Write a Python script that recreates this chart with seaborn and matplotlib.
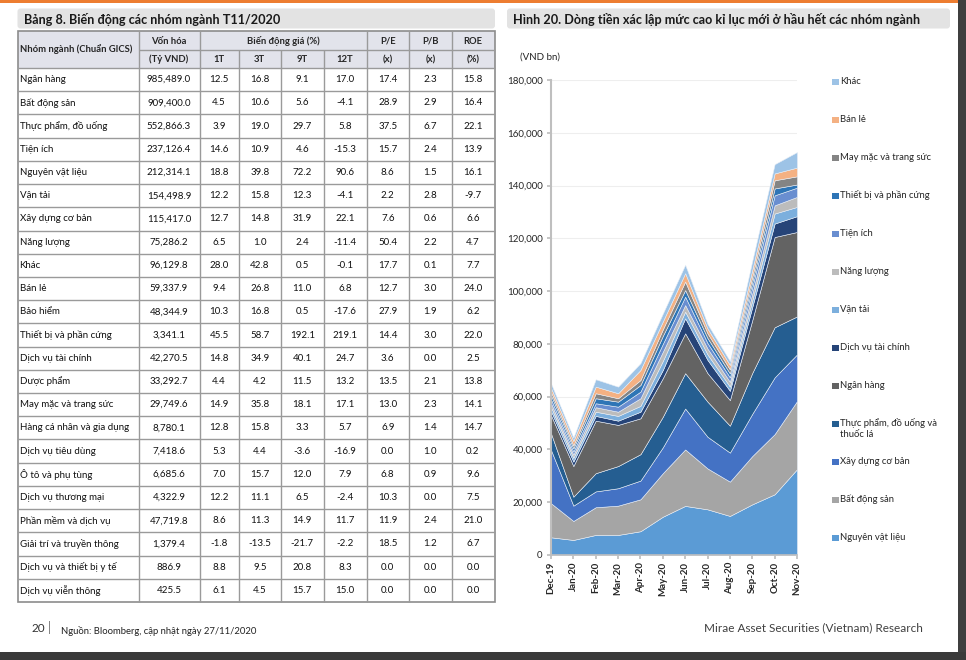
import matplotlib
matplotlib.use("Agg")
import matplotlib.pyplot as plt
from matplotlib.patches import Rectangle, FancyBboxPatch
from matplotlib.ticker import FuncFormatter, MultipleLocator
import numpy as np
import seaborn as sns

# Bảng 8 - biến động các nhóm ngành T11/2020
nganh = ["Ngân hàng", "Bất động sản", "Thực phẩm, đồ uống", "Tiện ích", "Nguyên vật liệu",
         "Vận tải", "Xây dựng cơ bản", "Năng lượng", "Khác", "Bán lẻ", "Bảo hiểm",
         "Thiết bị và phần cứng", "Dịch vụ tài chính", "Dược phẩm", "May mặc và trang sức",
         "Hàng cá nhân và gia dụng", "Dịch vụ tiêu dùng", "Ô tô và phụ tùng",
         "Dịch vụ thương mại", "Phần mềm và dịch vụ", "Giải trí và truyền thông",
         "Dịch vụ và thiết bị y tế", "Dịch vụ viễn thông"]
von_hoa = [985489.0, 909400.0, 552866.3, 237126.4, 212314.1, 154498.9, 115417.0, 75286.2,
           96129.8, 59337.9, 48344.9, 3341.1, 42270.5, 33292.7, 29749.6, 8780.1, 7418.6,
           6685.6, 4322.9, 47719.8, 1379.4, 886.9, 425.5]
bd_1t = [12.5, 4.5, 3.9, 14.6, 18.8, 12.2, 12.7, 6.5, 28.0, 9.4, 10.3, 45.5, 14.8, 4.4,
         14.9, 12.8, 5.3, 7.0, 12.2, 8.6, -1.8, 8.8, 6.1]
bd_3t = [16.8, 10.6, 19.0, 10.9, 39.8, 15.8, 14.8, 1.0, 42.8, 26.8, 16.8, 58.7, 34.9, 4.2,
         35.8, 15.8, 4.4, 15.7, 11.1, 11.3, -13.5, 9.5, 4.5]
bd_9t = [9.1, 5.6, 29.7, 4.6, 72.2, 12.3, 31.9, 2.4, 0.5, 11.0, 0.5, 192.1, 40.1, 11.5,
         18.1, 3.3, -3.6, 12.0, 6.5, 14.9, -21.7, 20.8, 15.7]
bd_12t = [17.0, -4.1, 5.8, -15.3, 90.6, -4.1, 22.1, -11.4, -0.1, 6.8, -17.6, 219.1, 24.7,
          13.2, 17.1, 5.7, -16.9, 7.9, -2.4, 11.7, -2.2, 8.3, 15.0]
pe = [17.4, 28.9, 37.5, 15.7, 8.6, 2.2, 7.6, 50.4, 17.7, 12.7, 27.9, 14.4, 3.6, 13.5, 13.0,
      6.9, 0.0, 6.8, 10.3, 11.9, 18.5, 0.0, 0.0]
pb = [2.3, 2.9, 6.7, 2.4, 1.5, 2.8, 0.6, 2.2, 0.1, 3.0, 1.9, 3.0, 0.0, 2.1, 2.3, 1.4, 1.0,
      0.9, 0.0, 2.4, 1.2, 0.0, 0.0]
roe = [15.8, 16.4, 22.1, 13.9, 16.1, -9.7, 6.6, 4.7, 7.7, 24.0, 6.2, 22.0, 2.5, 13.8, 14.1,
       14.7, 0.2, 9.6, 7.5, 21.0, 6.7, 0.0, 0.0]

# Hình 20 - dòng tiền theo nhóm ngành (VND bn), từ dưới lên
thang = ["Dec-19", "Jan-20", "Feb-20", "Mar-20", "Apr-20", "May-20", "Jun-20",
         "Jul-20", "Aug-20", "Sep-20", "Oct-20", "Nov-20"]
nguyen_vat_lieu = [6700, 5700, 7600, 7600, 9000, 14500, 18600, 17300, 14800, 19200, 23000, 32500]
bat_dong_san = [12900, 7200, 10500, 11100, 12100, 16500, 21400, 15500, 13000, 18300, 22800, 25800]
xay_dung = [20200, 5800, 6000, 6600, 7100, 9800, 15500, 12000, 11000, 16000, 21500, 17700]
thuc_pham = [6300, 3400, 6900, 8400, 10000, 11600, 13400, 13300, 10200, 15500, 19000, 14400]
ngan_hang = [6900, 11600, 19900, 15600, 13600, 14600, 15100, 10800, 9700, 20000, 34200, 32000]
dv_tai_chinh = [1500, 1700, 1800, 1600, 2500, 3100, 5700, 5000, 3500, 5000, 5100, 6000]
van_tai = [1500, 1400, 1600, 1800, 2200, 3400, 2500, 2100, 1600, 2500, 3800, 3500]
nang_luong = [1500, 1200, 1700, 1600, 2900, 3500, 2500, 2200, 1800, 2500, 3100, 3800]
tien_ich = [1500, 1200, 1500, 1900, 2500, 3000, 3200, 2100, 1700, 2500, 3800, 3500]
thiet_bi = [1500, 1200, 1900, 1900, 2500, 3000, 2500, 1900, 1500, 2000, 2600, 1200]
may_mac = [1300, 1100, 1900, 1300, 1900, 2500, 3200, 1800, 1500, 2000, 3100, 3100]
ban_le = [1500, 1700, 2500, 1900, 3800, 3000, 3200, 1800, 1700, 2500, 2600, 3300]
khac = [1700, 1300, 2800, 2500, 2600, 3000, 3200, 1700, 1500, 3500, 3500, 5900]

series = [nguyen_vat_lieu, bat_dong_san, xay_dung, thuc_pham, ngan_hang, dv_tai_chinh,
          van_tai, nang_luong, tien_ich, thiet_bi, may_mac, ban_le, khac]
ten_series = ["Nguyên vật liệu", "Bất động sản", "Xây dựng cơ bản",
              "Thực phẩm, đồ uống và\nthuốc lá", "Ngân hàng", "Dịch vụ tài chính", "Vận tải",
              "Năng lượng", "Tiện ích", "Thiết bị và phần cứng", "May mặc và trang sức",
              "Bán lẻ", "Khác"]
mau = ["#5b9bd5", "#a5a5a5", "#4472c4", "#255e91", "#636363", "#264478", "#7cafdd",
       "#bcbcbc", "#698ed0", "#2e75b6", "#848484", "#f4b183", "#9dc3e6"]

sns.set_theme(style="white")
plt.rcParams["font.family"] = ["Lato", "DejaVu Sans"]

fig = plt.figure(figsize=(9.66, 6.6), dpi=100)

# Trang nền (tọa độ pixel)
page = fig.add_axes([0, 0, 1, 1])
page.set_xlim(0, 966)
page.set_ylim(660, 0)
page.axis("off")

page.add_patch(Rectangle((0, 0), 958, 2.5, color="#ed7d31", lw=0))
page.add_patch(Rectangle((958, 0), 8, 660, color="#3f3f3f", lw=0))
page.add_patch(Rectangle((0, 652), 966, 8, color="#3a3a3a", lw=0))

# Tiêu đề
for x0, x1, txt in [(17.5, 495, "Bảng 8. Biến động các nhóm ngành T11/2020"),
                    (507, 950, "Hình 20. Dòng tiền xác lập mức cao kỉ lục mới ở hầu hết các nhóm ngành")]:
    page.add_patch(FancyBboxPatch((x0, 8.5), x1 - x0, 20, boxstyle="round,pad=0,rounding_size=3",
                                  fc="#e3e3e3", ec="none"))
    page.text(x0 + 6, 19, txt, fontsize=9.1, fontweight="bold", va="center", ha="left", color="#1a1a1a")

# Bảng
cot = [17.5, 138.5, 199.5, 238.5, 281, 323.5, 366.5, 409, 451.5, 494.5]
y_top, y_mid, y_hdr = 31, 50, 68
row_h = (602 - y_hdr) / len(nganh)
grid_c = "#9a9a9a"

page.add_patch(Rectangle((cot[0], y_top), cot[-1] - cot[0], y_hdr - y_top, fc="#e2e3eb", ec="none"))
hfs = 6.8
page.text(cot[0] + 2, (y_top + y_hdr) / 2, "Nhóm ngành (Chuẩn GICS)", fontsize=hfs,
          fontweight="bold", va="center", ha="left")
yh1 = (y_top + y_mid) / 2 + 0.5
yh2 = (y_mid + y_hdr) / 2 + 0.5
page.text((cot[1] + cot[2]) / 2, yh1, "Vốn hóa", fontsize=hfs, fontweight="bold", ha="center", va="center")
page.text((cot[1] + cot[2]) / 2, yh2, "(Tỷ VND)", fontsize=hfs, fontweight="bold", ha="center", va="center")
page.text((cot[2] + cot[6]) / 2, yh1, "Biến động giá (%)", fontsize=hfs, fontweight="bold", ha="center", va="center")
for i, lab in enumerate(["1T", "3T", "9T", "12T"]):
    page.text((cot[2 + i] + cot[3 + i]) / 2, yh2, lab, fontsize=hfs, fontweight="bold", ha="center", va="center")
for i, (a, b) in enumerate([("P/E", "(x)"), ("P/B", "(x)"), ("ROE", "(%)")]):
    xc = (cot[6 + i] + cot[7 + i]) / 2
    page.text(xc, yh1, a, fontsize=hfs, fontweight="bold", ha="center", va="center")
    page.text(xc, yh2, b, fontsize=hfs, fontweight="bold", ha="center", va="center")

# đường kẻ header
page.hlines(y_mid, cot[1], cot[-1], color=grid_c, lw=1.0)
page.vlines([cot[1], cot[2], cot[6], cot[7], cot[8]], y_top, y_hdr, color=grid_c, lw=1.0)
page.vlines([cot[3], cot[4], cot[5]], y_mid, y_hdr, color=grid_c, lw=1.0)

cols = [von_hoa, bd_1t, bd_3t, bd_9t, bd_12t, pe, pb, roe]
bfs = 7
for r, name in enumerate(nganh):
    yc = y_hdr + (r + 0.5) * row_h
    page.text(cot[0] + 2, yc, name, fontsize=bfs, va="center", ha="left", color="#111111")
    for c, vals in enumerate(cols):
        s = f"{vals[r]:,.1f}" if c == 0 else f"{vals[r]:.1f}"
        page.text((cot[c + 1] + cot[c + 2]) / 2, yc, s, fontsize=bfs, va="center", ha="center",
                  color="#111111")
    page.hlines(y_hdr + r * row_h, cot[0], cot[-1], color=grid_c, lw=1.0)
page.vlines(cot[1:-1], y_hdr, 602, color=grid_c, lw=1.0)
page.add_patch(Rectangle((cot[0], y_top), cot[-1] - cot[0], 602 - y_top, fill=False, ec="#8c8c8c", lw=1.2))

# Chú thích dưới trang
page.text(32, 629, "20", fontsize=8.5, va="center", ha="left", color="#333333")
page.text(47.5, 628, "|", fontsize=9, va="center", ha="left", color="#777777")
page.text(61, 631, "Nguồn: Bloomberg, cập nhật ngày 27/11/2020", fontsize=6.8, va="center", ha="left", color="#222222")
page.text(923, 628, "Mirae Asset Securities (Vietnam) Research", fontsize=8.5, va="center", ha="right", color="#404040")

# Biểu đồ vùng chồng
ax = fig.add_axes([551 / 966, 1 - 555 / 660, 246 / 966, 475 / 660])
ax.patch.set_alpha(0)
x = np.arange(len(thang))
ax.stackplot(x, *series, colors=mau, edgecolor="#e8eef6", linewidth=0.4)
ax.set_xlim(0, len(thang) - 1)
ax.set_ylim(0, 180000)
ax.yaxis.set_major_locator(MultipleLocator(20000))
ax.yaxis.set_major_formatter(FuncFormatter(lambda v, p: f"{v:,.0f}"))
ax.set_xticks(x)
ax.set_xticklabels(thang, rotation=90, fontsize=7, fontweight="bold")
ax.tick_params(axis="y", labelsize=7, length=3, color="#bfbfbf", direction="out", left=True, pad=3)
ax.tick_params(axis="x", length=3, color="#bfbfbf", direction="out", bottom=True, pad=2)
ax.grid(axis="y", color="#eeeeee", lw=0.8)
ax.set_axisbelow(True)
for sp in ["top", "right"]:
    ax.spines[sp].set_visible(False)
ax.spines["left"].set_color("#bfbfbf")
ax.spines["left"].set_linewidth(1.5)
ax.spines["bottom"].set_color("#bfbfbf")
ax.spines["bottom"].set_linewidth(1.2)

page.text(520, 57, "(VND bn)", fontsize=7, va="center", ha="left")

# Chú giải (từ trên xuống)
for i, k in enumerate(range(len(series) - 1, -1, -1)):
    yc = 82 + 38 * i
    page.add_patch(Rectangle((832, yc - 3.5), 6.5, 6.5, fc=mau[k], ec="none"))
    page.text(840, yc - 5.5, ten_series[k], fontsize=6.8, va="top", ha="left", linespacing=1.25)

fig.savefig("out.png", dpi=100)
